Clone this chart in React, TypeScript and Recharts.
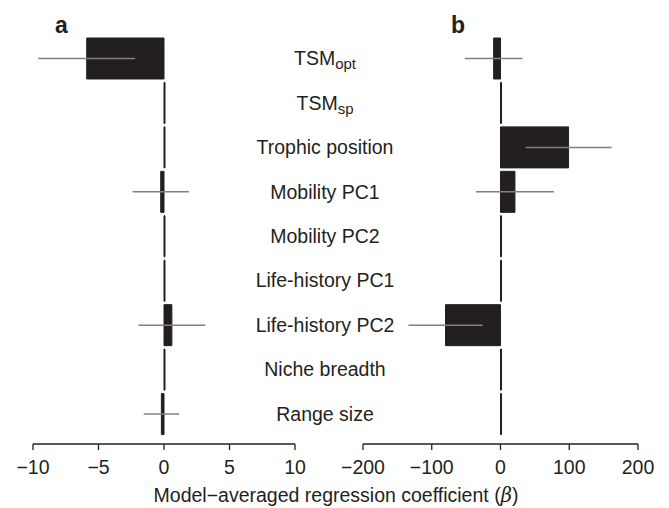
import React from 'react';
import { BarChart, Bar, XAxis, YAxis, ErrorBar } from 'recharts';

const categories = [
  'TSM_opt',
  'TSM_sp',
  'Trophic position',
  'Mobility PC1',
  'Mobility PC2',
  'Life-history PC1',
  'Life-history PC2',
  'Niche breadth',
  'Range size',
];

const valuesA = [-5.9, 0, 0, -0.25, 0, 0, 0.6, 0, -0.2];
const errorsA = [3.7, 0, 0, 2.15, 0, 0, 2.55, 0, 1.35];
const valuesB = [-10, 0, 99, 21, 0, 0, -80, 0, 0];
const errorsB = [42, 0, 62.5, 56.7, 0, 0, 54, 0, 0];

const ticksA = [-10, -5, 0, 5, 10];
const ticksB = [-200, -100, 0, 100, 200];

const data = categories.map((cat, i) => ({
  cat,
  a: valuesA[i],
  errA: errorsA[i],
  b: valuesB[i],
  errB: errorsB[i],
}));

const FONT = '"Liberation Sans", Arial, sans-serif';
const INK = '#231f20';
const ERR = '#808080';

const fmt = (v: number) => (v < 0 ? '\u2212' + Math.abs(v) : String(v));

const CatTick = (props: any) => {
  const { y, payload } = props;
  const label: string = payload.value;
  const parts = label.split('_');
  return (
    <text
      x={325}
      y={y + 7}
      textAnchor="middle"
      fill={INK}
      fontSize={19.5}
      fontFamily={FONT}
    >
      <tspan>{parts[0]}</tspan>
      {parts[1] ? (
        <tspan fontSize={15} dy={4}>
          {parts[1]}
        </tspan>
      ) : null}
    </text>
  );
};

const axisTick = { fill: INK, fontSize: 19.5, fontFamily: FONT };

export default function App() {
  return (
    <div
      style={{
        position: 'absolute',
        left: 0,
        top: 0,
        width: 669,
        height: 508,
        background: '#fff',
        fontFamily: FONT,
      }}
    >
      <div style={{ position: 'absolute', left: 0, top: 0 }}>
        <BarChart
          width={340}
          height={508}
          data={data}
          layout="vertical"
          margin={{ top: 36, right: 45, bottom: 34, left: 33 }}
        >
          <XAxis
            type="number"
            domain={[-10, 10]}
            ticks={ticksA}
            allowDataOverflow
            tickFormatter={fmt}
            tick={axisTick}
            tickSize={6}
            tickMargin={10}
            height={30}
            stroke={INK}
            strokeWidth={1.3}
          />
          <YAxis type="category" dataKey="cat" hide padding={{ top: 0, bottom: 8 }} />
          <Bar
            dataKey="a"
            fill={INK}
            stroke={INK}
            strokeWidth={1}
            barSize={41}
            minPointSize={1}
            isAnimationActive={false}
          >
            <ErrorBar
              dataKey="errA"
              direction="x"
              width={0}
              stroke={ERR}
              strokeWidth={1.5}
              isAnimationActive={false}
            />
          </Bar>
        </BarChart>
      </div>
      <div style={{ position: 'absolute', left: 0, top: 0 }}>
        <BarChart
          width={669}
          height={508}
          data={data}
          layout="vertical"
          margin={{ top: 36, right: 31, bottom: 34, left: 303 }}
        >
          <XAxis
            type="number"
            domain={[-200, 200]}
            ticks={ticksB}
            allowDataOverflow
            tickFormatter={fmt}
            tick={axisTick}
            tickSize={6}
            tickMargin={10}
            height={30}
            stroke={INK}
            strokeWidth={1.3}
          />
          <YAxis
            type="category"
            dataKey="cat"
            width={60}
            axisLine={false}
            tickLine={false}
            tick={<CatTick />}
            interval={0}
            padding={{ top: 0, bottom: 8 }}
          />
          <Bar
            dataKey="b"
            fill={INK}
            stroke={INK}
            strokeWidth={1}
            barSize={41}
            minPointSize={1}
            isAnimationActive={false}
          >
            <ErrorBar
              dataKey="errB"
              direction="x"
              width={0}
              stroke={ERR}
              strokeWidth={1.5}
              isAnimationActive={false}
            />
          </Bar>
        </BarChart>
      </div>
      <div
        style={{
          position: 'absolute',
          left: 55,
          top: 14,
          fontSize: 23,
          lineHeight: '23px',
          fontWeight: 'bold',
          color: INK,
        }}
      >
        a
      </div>
      <div
        style={{
          position: 'absolute',
          left: 451,
          top: 14,
          fontSize: 23,
          lineHeight: '23px',
          fontWeight: 'bold',
          color: INK,
        }}
      >
        b
      </div>
      <div
        style={{
          position: 'absolute',
          left: 0,
          top: 485,
          width: 672,
          textAlign: 'center',
          fontSize: 19.5,
          lineHeight: '21px',
          color: INK,
        }}
      >
        Model{'\u2212'}averaged regression coefficient (<i style={{ fontFamily: '"DejaVu Serif", serif' }}>β</i>)
      </div>
    </div>
  );
}
